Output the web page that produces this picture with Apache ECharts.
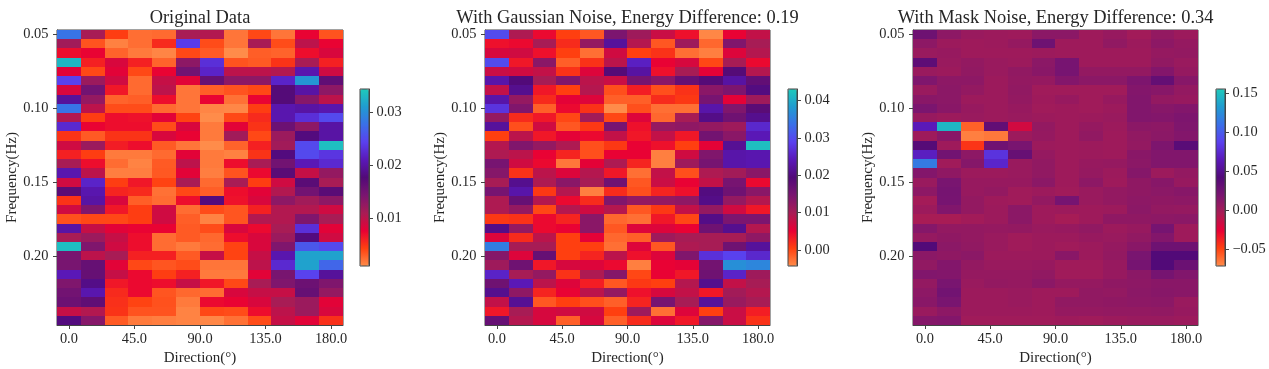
<!DOCTYPE html>
<html>
<head>
<meta charset="utf-8">
<style>
  html, body { margin: 0; padding: 0; background: #fff; }
  #chart { width: 1269px; height: 369px; filter: blur(0.5px); }
</style>
<script src="https://cdn.jsdelivr.net/npm/echarts@6/dist/echarts.min.js"></script>
</head>
<body>
<div id="chart"></div>
<script type="text/javascript">
var directions = [0, 16.36, 32.73, 49.09, 65.45, 81.82, 98.18, 114.55, 130.91, 147.27, 163.64, 180];
var frequencies = [0.05, 0.05625, 0.0625, 0.06875, 0.075, 0.08125, 0.0875, 0.09375, 0.1, 0.10625, 0.1125, 0.11875, 0.125, 0.13125, 0.1375, 0.14375,
  0.15, 0.15625, 0.1625, 0.16875, 0.175, 0.18125, 0.1875, 0.19375, 0.2, 0.20625, 0.2125, 0.21875, 0.225, 0.23125, 0.2375, 0.24375];
var directionTicks = [0, 45, 90, 135, 180];
var frequencyTicks = [0.05, 0.1, 0.15, 0.2];

// cell values below are in units of 1e-3, one row per frequency
var originalData = [
  [28, 11, 4.5, 2.3, 2.5, 11, 10.5, 2, 4, 2, 7.5, 3.5],
  [11.5, 3.5, 1.5, 2.3, 5.5, 24, 3.8, 2, 11, 3.8, 10, 7.5],
  [7, 7.5, 2.8, 1.8, 1.3, 4, 3.2, 1, 3, 2.8, 7, 8.5],
  [33, 6, 8.5, 6, 2.8, 13, 23, 3.5, 3.2, 5, 11, 6],
  [8, 4, 8, 4, 7.5, 15, 22, 10, 10, 10.5, 20.5, 9],
  [24.5, 12, 9, 2.5, 9.5, 8, 16, 13, 13, 22, 30.5, 16.5],
  [8.5, 15, 6.5, 2.5, 10, 2, 3, 3.5, 4, 17.5, 20, 13],
  [19.5, 12.5, 2.8, 3, 7, 2, 7.5, 2.2, 7.5, 17.5, 13.5, 10],
  [28, 10, 3.8, 3.8, 2.5, 2, 1.3, 1.2, 4.5, 20.5, 20, 20.5],
  [10.5, 4.5, 7, 6.8, 8, 4.2, 1, 4, 5.5, 20.5, 23, 25],
  [22.5, 7.5, 7, 7, 3.8, 8.5, 1.8, 8, 5, 15.5, 13, 20],
  [5, 3.2, 5, 5, 8.5, 7.5, 1.8, 11.5, 4, 12, 18, 20],
  [9, 12, 6.2, 7, 3.2, 2, 1, 2.8, 6, 11.5, 25, 33.5],
  [6, 4.5, 1.8, 1.8, 2.5, 8, 1.8, 1.5, 5, 18, 25, 23.5],
  [11, 7, 2.4, 1.4, 3.2, 10, 1.8, 7, 11, 15, 21, 22.5],
  [20.5, 10, 1.6, 1.6, 3.3, 8, 1.6, 3.5, 7.2, 17, 9.5, 12.5],
  [9, 22, 4.5, 6.5, 4.2, 11, 2.5, 11, 4.5, 9, 17, 11],
  [17, 20.5, 5.8, 5.5, 2.2, 4, 3, 7, 8, 10.5, 15, 17],
  [5, 20, 8.5, 3, 2.4, 7, 18, 6.8, 8.5, 13, 11.5, 13],
  [9, 14, 6.5, 4.5, 9, 2.4, 3.8, 3.4, 6, 10.5, 10.5, 9],
  [3.6, 4, 4, 4.5, 9, 3, 1.4, 3.4, 10.5, 10.5, 14, 11],
  [20, 9.5, 8, 7.5, 7.5, 3.2, 3.8, 8.5, 7.2, 11, 23, 8],
  [11, 12, 9.5, 7, 2.4, 3.2, 2.6, 7, 8.5, 12, 18, 9],
  [33.5, 14, 9, 7, 2.4, 1.8, 2.4, 4.2, 8.5, 14, 26, 25],
  [14.5, 10, 11, 6, 6, 3.2, 9.5, 4.2, 9.5, 20.5, 31.5, 31.5],
  [14.5, 16, 8, 4, 3.4, 3.8, 2, 2, 10, 22.5, 31.5, 27],
  [21, 16, 9.5, 7.2, 4.5, 6, 1.8, 1.8, 8, 14.5, 24.5, 19.5],
  [14, 18.5, 6.5, 7.2, 7, 9.5, 6.5, 4, 11, 14, 15.5, 14],
  [15, 20.5, 5.5, 7.2, 3.4, 2.6, 2.4, 8.5, 9.5, 9.5, 16, 12.5],
  [15.5, 16.5, 5.2, 4.2, 3.6, 1.8, 7.2, 7.5, 8.5, 11, 12, 8],
  [9.5, 10.5, 5, 3.5, 3.5, 1.4, 4, 3.8, 7, 10, 12, 8.5],
  [18, 13.5, 3.2, 1.8, 1.6, 1.4, 1.2, 2.2, 3.8, 9.5, 8, 5.2]
];
var gaussianData = [
  [30, 9.5, 4.5, 0.5, -1, 14.5, 11, 7.5, 4, -4, 5, 8],
  [4, 4.5, 10, 2, 12, 22, 9, -1, 11, -2, 14, 10],
  [6.5, 7, 4, 0.5, -2.5, 7, 0.5, 1.5, -2.5, -3.5, 6, 9],
  [30, 3.5, 13, -1.5, 1.5, 8.5, 25, 5, 6.5, 0, 10, 4.5],
  [7.5, 7, 8, 1.5, 6, 19, 22.5, 4, 10, 5.5, 19, 9],
  [23, 19.5, 10, 14, 8.5, 7.5, 15, 13, 17, 19, 22.5, 17.5],
  [8, 21, 3.5, 0.5, 9, -0.5, 3, -0.5, 1.5, 13, 14.5, 20],
  [23, 12, 2, 5.5, 6, -1.5, -1.5, 2, 1, 15, 5.5, 11],
  [27.5, 14, -1.5, 4.5, 1.5, -4.3, -0.5, -2.5, -2.5, 23, 14, 18.5],
  [12, 2, 3.5, 0, 10.5, 0, 6, -2, 10, 20.5, 16, 21],
  [22, -0.5, 7, -1, 1, 15, 4, 12, 12.5, 12, 11, 26],
  [0.5, 8.5, 3.5, 5.5, 4.5, 8, 3.5, 8, 3.5, 15.5, 13, 24],
  [9, 14, 12, 9.5, -0.5, 1, 5, 4, 0.5, 5.5, 21.5, 42],
  [9.5, 8.5, 5, 2.5, -0.5, 5, 5, -3.5, 7, 14, 23, 23.5],
  [15, 7, 4.5, -3, 5.5, 9.5, 2.5, -3.5, 11, 15, 23, 23.5],
  [13.5, 1.5, 8.5, 6, 9, 3.5, -2.5, 8, -0.5, 9.5, 10.5, 13],
  [10, 21, 9.5, 13, 10, 16, -1, 7.5, 5, 8, 15, 4.5],
  [15, 23, 1, 9, -3.5, 2, -0.5, 2.5, 4, 20, 16, 13],
  [9.5, 17, 9, 4.5, 2, 14, 12, 12, 12.5, 20.5, 12, 9],
  [9.5, 12, 0, 9, 7, 9, -1, 1, 8, 12, 7, 3.5],
  [1, 1.5, 4.5, 2.5, 13, -2, -2.5, 3.5, 0, 20.5, 14.5, 14.5],
  [20.5, 12, 4.5, 5, 13, -1, 6, 6, 5, 16, 21, 9],
  [6, 2, 8.5, 0.5, 5.5, -2, -1.5, 11, 10, 10, 10, 12.5],
  [35, 10, 10, 0.5, 0.5, -2.5, 6, -1, 9.5, 10, 16, 22],
  [13.5, 6, 17, 0.5, 2.5, 8.5, 4, 6, 14, 27, 29, 26],
  [11, 16, 3.5, 6.5, 6, 4.5, -3.5, 5, 5.5, 15.5, 37, 36],
  [25.5, 10, 12, 1.5, 9.5, 13.5, 0, 5, 3.5, 16, 25.5, 11],
  [16, 24, 8.5, 6, 3, -1, 1, 0.5, 9, 21, 8, 10],
  [21, 12.5, 2.5, 5, 8.5, 12, 4, 6.5, 8, 3.5, 10.5, 9],
  [8, 21.5, -1, 0.5, -0.5, -1.5, 2.5, 15, 10, 22, 11.5, 10],
  [3.5, 10, 6.5, 7, 7, 0.5, 11, -2.5, 6, 0.5, 7.5, 3],
  [17, 9, 6.5, -1.5, 6.5, -1.5, 2, 6, 3.5, 13.5, 7.5, 1.5]
];
var maskData = [
  [26, 10, 4, 3, 2, 11, 11, 2, 5, 0, 7, 3],
  [10, 3, 2, 3, 6, 26, 2, 2, 8, 3, 10, 6],
  [4, 5, 2, 2, 2, 3, 2, 2, 2, 2, 6, 7],
  [35, 4, 7, 4, 3, 11, 21, 2, 2, 2, 8, 4],
  [4, 3, 8, 4, 8, 12, 21, 7, 7, 7, 15, 6],
  [17, 10, 10, 3, 7, 6, 15, 11, 11, 18, 32, 13],
  [4, 11, 7, 3, 8, 1, 1, 1, 1, 15, 13, 7],
  [12, 11, 3, 3, 7, 2, 5, 1, 5, 16, 7, 5],
  [19, 12, 5, 3, 5, 1, 2, 1, 3, 16, 13, 15],
  [5, 3, 4, 3, 4, 3, 2, 3, 4, 16, 15, 18],
  [65, 145, -58, 33, -18, 7, 2, 6, 3, 11, 10, 17],
  [2, 12, -67, -65, 3, 6, 2, 8, 2, 8, 11, 15],
  [40, 2, -44, 25, 20, 3, 2, 3, 2, 7, 18, 38],
  [68, 24, 10, 80, 30, 6, 2, 3, 2, 12, 16, 16],
  [115, 1, 14, 72, 4, 8, 2, 5, 6, 11, 16, 16],
  [15, 9, 3, 3, 4, 8, 2, 6, 3, 14, 3, 7],
  [4, 20, 5, 5, 5, 11, 2, 10, 2, 9, 13, 5],
  [10, 22, 5, 7, 1, 3, 1, 4, 7, 9, 11, 13],
  [-1, 21, 7, 2, 1, 7, 22, 4, 7, 10, 9, 10],
  [3, 16, 7, 3, 11, 2, 3, 2, 3, 11, 7, 6],
  [-3, -3, 0, 3, 11, 2, -2, 2, 9, 9, 10, 11],
  [14, 7, 7, 6, 7, 4, 5, 8, 3, 5, 22, 2],
  [6, 9, 7, 4, 1, 3, 3, 5, 4, 8, 15, 2],
  [42, 11, 8, 4, 1, 3, 1, 3, 6, 12, 26, 26],
  [11, 9, 11, 3, 3, 3, 12, 3, 7, 20, 42, 42],
  [8, 15, 7, 4, 4, 5, 1, 1, 5, 22, 42, 28],
  [16, 15, 6, 6, 6, 8, 1, 1, 5, 11, 22, 16],
  [7, 20, 4, 7, 6, 11, 6, 6, 9, 10, 12, 12],
  [10, 24, 3, 3, 4, 2, 2, 8, 7, 11, 13, 12],
  [12, 20, 3, 3, 4, 2, 8, 8, 9, 10, 11, 4],
  [4, 10, 3, 3, 3, 2, 6, 6, 7, 7, 8, 5],
  [14, 15, 1, 1, 1, 1, 2, 1, 3, 4, 4, 3]
];

var titles = ["Original Data", "With Gaussian Noise, Energy Difference: 0.19", "With Mask Noise, Energy Difference: 0.34"];
var panelData = [originalData, gaussianData, maskData];
var colorRanges = [[0.001, 0.0344], [-0.0043, 0.0431], [-0.0709, 0.155]];
var colorTicks = [
  [0.01, 0.02, 0.03],
  [0, 0.01, 0.02, 0.03, 0.04],
  [-0.05, 0, 0.05, 0.1, 0.15]
];
var palette = ["#ff8c4a", "#ff4010", "#e80035", "#a81c55", "#7a1570", "#520a78", "#5a18b8", "#5a40ee", "#3a70e8", "#209cd0", "#1fcabb"];

// pixel boxes of the three plots and colour bars
var plotLeft = [57, 485, 913];
var plotWidth = [286, 285, 285];
var barLeft = [360, 788, 1216];

var font = "'Liberation Serif', 'Times New Roman', serif";
var inkColor = "#262626";
var lineColor = "#444";
var labelSize = 14.4;
var halfX = 180 / 22;
var halfY = 0.003125;

var chart = echarts.init(document.getElementById("chart"));

// snapped to whole pixels; the small bias on the far edges stops seams between neighbours
function cell(params, api) {
  var center = api.coord([api.value(0), api.value(1)]);
  var size = api.size([halfX * 2, halfY * 2]);
  var x0 = Math.round(center[0] - size[0] / 2);
  var x1 = Math.round(center[0] + size[0] / 2 + 0.25);
  var y0 = Math.round(center[1] - size[1] / 2);
  var y1 = Math.round(center[1] + size[1] / 2 + 0.25);
  return {
    type: "rect",
    shape: { x: x0, y: y0, width: x1 - x0, height: y1 - y0 },
    style: { fill: api.visual("color") }
  };
}

function minus(text) {
  return text.replace("-", "\u2212");
}

var option = {
  animation: false,
  backgroundColor: "#fff",
  title: [],
  grid: [],
  xAxis: [],
  yAxis: [],
  visualMap: [],
  series: []
};

titles.forEach(function(name, i) {
  var points = [];
  panelData[i].forEach(function(row, r) {
    row.forEach(function(v, c) {
      points.push([directions[c], frequencies[r], v / 1000]);
    });
  });

  option.title.push({
    text: name,
    left: plotLeft[i] + plotWidth[i] / 2,
    top: 9,
    padding: 0,
    textAlign: "center",
    textStyle: { fontFamily: font, fontSize: 18.4, fontWeight: "normal", color: inkColor }
  });

  option.grid.push({
    left: plotLeft[i], top: 30, width: plotWidth[i], height: 295,
    show: true, borderColor: lineColor, borderWidth: 1, outerBoundsMode: "none"
  });
  option.xAxis.push({
    gridIndex: i,
    type: "value",
    min: -halfX,
    max: 180 + halfX,
    name: "Direction(°)",
    nameLocation: "middle",
    nameGap: 26,
    nameTextStyle: { fontFamily: font, fontSize: 15, color: inkColor },
    axisLine: { show: true, onZero: false, lineStyle: { color: lineColor } },
    axisTick: { show: true, length: 4, customValues: directionTicks, lineStyle: { color: lineColor } },
    axisLabel: {
      customValues: directionTicks, margin: 7,
      fontFamily: font, fontSize: labelSize, color: inkColor,
      formatter: function(v) { return v.toFixed(1); }
    },
    splitLine: { show: false }
  });
  option.yAxis.push({
    gridIndex: i,
    type: "value",
    inverse: true,
    min: 0.05 - halfY,
    max: 0.24375 + halfY,
    name: "Frequency(Hz)",
    nameLocation: "middle",
    nameGap: 37,
    nameTextStyle: { fontFamily: font, fontSize: 15, color: inkColor },
    axisLine: { show: true, onZero: false, lineStyle: { color: lineColor } },
    axisTick: { show: true, length: 4, customValues: frequencyTicks, lineStyle: { color: lineColor } },
    axisLabel: {
      customValues: frequencyTicks, margin: 8.5,
      fontFamily: font, fontSize: labelSize, color: inkColor,
      formatter: function(v) { return v.toFixed(2); }
    },
    splitLine: { show: false }
  });

  option.visualMap.push({
    type: "continuous",
    seriesIndex: i,
    dimension: 2,
    min: colorRanges[i][0],
    max: colorRanges[i][1],
    left: barLeft[i],
    top: 89,
    padding: 0,
    itemWidth: 9,
    itemHeight: 177,
    text: null,
    showLabel: false,
    calculable: false,
    hoverLink: false,
    inRange: { color: palette }
  });

  option.series.push({
    type: "custom",
    xAxisIndex: i,
    yAxisIndex: i,
    encode: { x: 0, y: 1 },
    clip: true,
    data: points,
    renderItem: cell
  });
});

// colour bar frames and their tick axes, in grids of their own
titles.forEach(function(name, i) {
  var g = i + titles.length;
  option.grid.push({
    left: barLeft[i], top: 89, width: 9, height: 177,
    show: true, borderColor: lineColor, borderWidth: 1, z: 5, outerBoundsMode: "none"
  });
  option.xAxis.push({ gridIndex: g, type: "value", min: 0, max: 1, show: false });
  option.yAxis.push({
    gridIndex: g,
    type: "value",
    position: "right",
    min: colorRanges[i][0],
    max: colorRanges[i][1],
    axisLine: { show: true, onZero: false, lineStyle: { color: lineColor } },
    axisTick: { show: true, length: 4, customValues: colorTicks[i], lineStyle: { color: lineColor } },
    axisLabel: {
      customValues: colorTicks[i], margin: 7.5,
      fontFamily: font, fontSize: labelSize, color: inkColor,
      formatter: function(v) { return minus(v.toFixed(2)); }
    },
    splitLine: { show: false }
  });
});

chart.setOption(option);
</script>
</body>
</html>
